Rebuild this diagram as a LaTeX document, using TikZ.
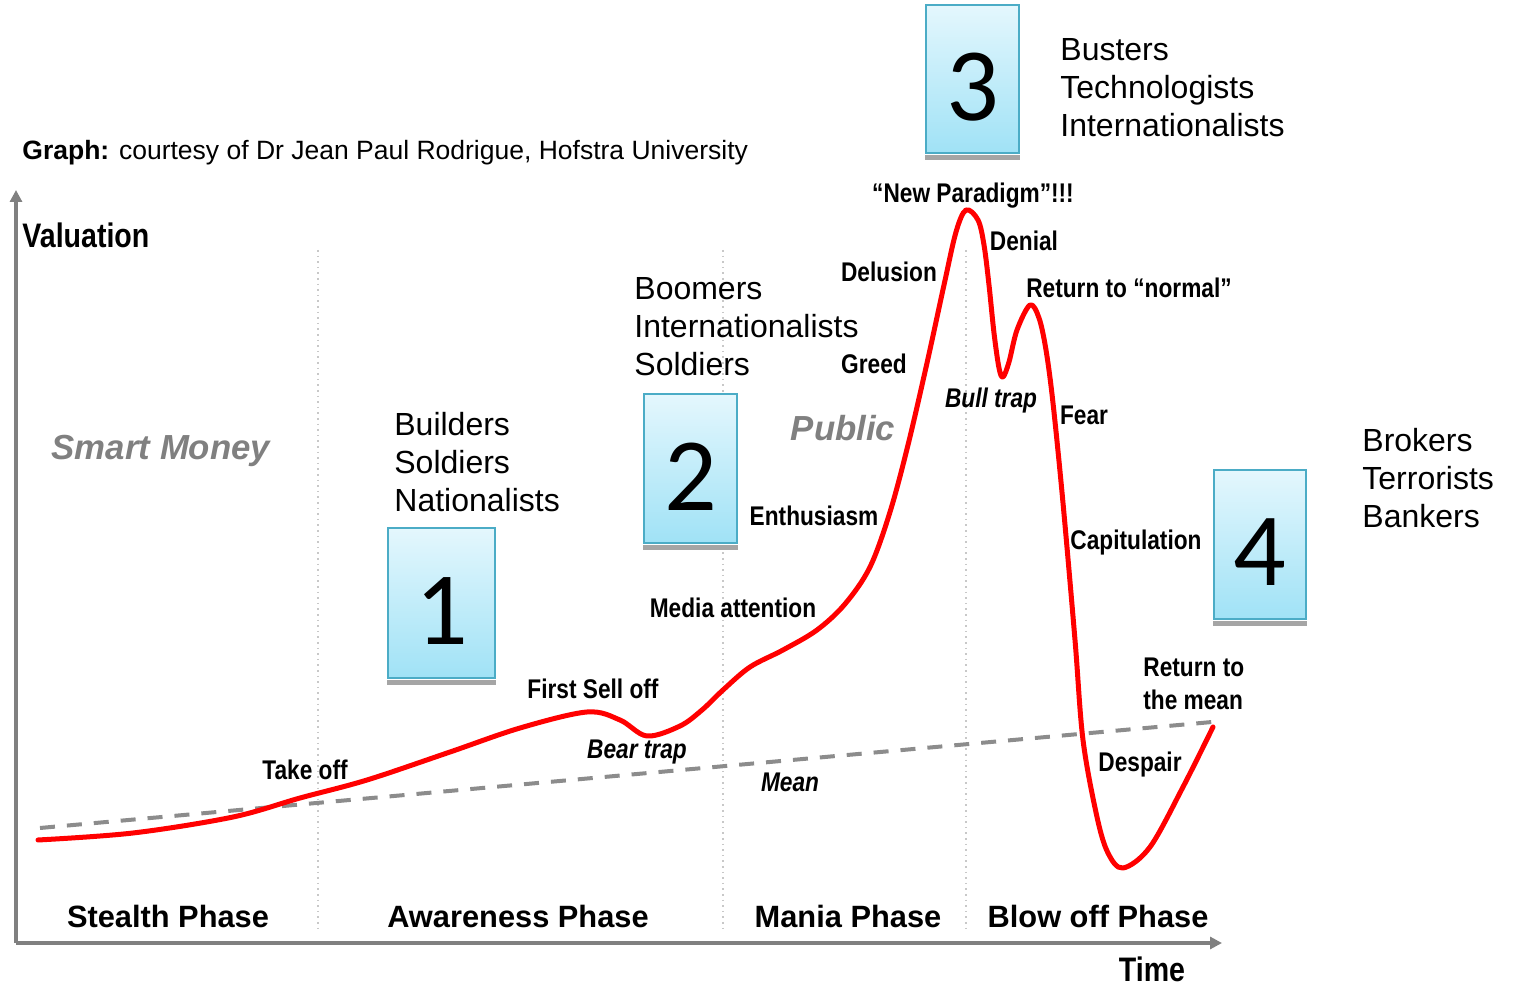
\documentclass[tikz,border=0pt]{standalone}
\usepackage{fontspec}
\setmainfont{Liberation Sans}
\newfontfamily\narrowfam[FakeStretch=0.84]{Liberation Sans}
\newfontfamily\boxfam{Carlito}
\usetikzlibrary{arrows.meta}
\definecolor{curvered}{RGB}{255,0,0}
\definecolor{axisgray}{RGB}{128,128,128}
\definecolor{meangray}{RGB}{140,140,140}
\definecolor{phasegray}{RGB}{200,200,200}
\definecolor{boxtop}{RGB}{228,247,253}
\definecolor{boxbottom}{RGB}{160,226,246}
\definecolor{boxborder}{RGB}{75,172,198}
\definecolor{shadowgray}{RGB}{165,165,165}
\definecolor{crowdgray}{RGB}{128,128,128}
\tikzset{
  lbl/.style={inner sep=0pt, font=\narrowfam\bfseries\fontsize{13.5pt}{16.5pt}\selectfont},
  ilbl/.style={lbl, font=\narrowfam\bfseries\itshape\fontsize{13.5pt}{16.5pt}\selectfont},
  axislbl/.style={inner sep=0pt, font=\narrowfam\bfseries\fontsize{17pt}{20pt}\selectfont},
  phaselbl/.style={inner sep=0pt, font=\bfseries\fontsize{15.4pt}{18pt}\selectfont},
  crowd/.style={inner sep=0pt, text=crowdgray, font=\bfseries\itshape\fontsize{17.4pt}{20pt}\selectfont},
  group/.style={inner sep=0pt, anchor=north west, align=left, font=\fontsize{16pt}{19pt}\selectfont},
  numbox/.style={draw=boxborder, line width=1pt, top color=boxtop, bottom color=boxbottom, inner sep=0pt},
  digit/.style={inner sep=0pt, font=\boxfam\fontsize{52pt}{60pt}\selectfont},
  axisline/.style={draw=axisgray, line width=2pt, -{Triangle[width=6pt,length=6pt]}},
  phaseline/.style={draw=phasegray, line width=0.8pt, dotted},
  meanline/.style={draw=meangray, line width=2pt, dash pattern=on 7.5pt off 6pt},
  curve/.style={draw=curvered, line width=2.5pt, line join=round, line cap=round}
}
\begin{document}
\begin{tikzpicture}[x=0.5pt,y=-0.5pt]
\useasboundingbox (0,0) rectangle (1516,988);

% phase separators
\coordinate (s1t) at (318,250); \coordinate (s1b) at (318,932);
\coordinate (s2t) at (723,250); \coordinate (s2b) at (723,932);
\coordinate (s3t) at (966,250); \coordinate (s3b) at (966,932);
\draw[phaseline] (s1t) -- (s1b);
\draw[phaseline] (s2t) -- (s2b);
\draw[phaseline] (s3t) -- (s3b);

% axes
\coordinate (origin) at (16,943);
\coordinate (ytip) at (16,190);
\coordinate (xtip) at (1222,943);
\draw[axisline] (origin) -- (ytip);
\draw[axisline] (origin) -- (xtip);

% mean line
\coordinate (m1) at (40,828);
\coordinate (m2) at (1212,722);
\draw[meanline] (m1) -- (m2);

% valuation curve
\draw[curve] plot[smooth, tension=0.55] coordinates {
(38,840) (133,833) (233,817) (300,798) (367,780) (450,752) (520,728) (587,712)
(620,720) (647,736) (680,726) (702,710) (723,690) (750,667) (783,650) (817,630)
(845,604) (870,567) (890,512) (908,445) (927,363) (944,285)
(956,232) (966,210) (978,220) (984,245) (989,285) (994,333) (999,368) (1003,377)
(1009,362) (1017,330) (1030,305) (1039,318) (1046,350) (1053,403) (1063,503)
(1075,640) (1083,740) (1097,817) (1108,853) (1123,868) (1150,847) (1183,787)
(1213,727)};

% numbered boxes
\node[numbox, minimum width=53.5pt, minimum height=75pt] (b1) at (441.5,603) {};
\node[numbox, minimum width=46.5pt, minimum height=74.5pt] (b2) at (690.5,468.5) {};
\node[numbox, minimum width=46.5pt, minimum height=74pt] (b3) at (972.5,79) {};
\node[numbox, minimum width=46pt, minimum height=74.5pt] (b4) at (1260,544.5) {};
\foreach \b in {b1,b2,b3,b4}{
  \fill[shadowgray] ([yshift=-0.5pt]\b.south west) rectangle ([yshift=-3pt]\b.south east);
}
\node[digit] (d1) at ([yshift=-4pt]b1.center) {1};
\node[digit] (d2) at ([yshift=-4pt]b2.center) {2};
\node[digit] (d3) at ([yshift=-4pt]b3.center) {3};
\node[digit] (d4) at ([yshift=-4pt]b4.center) {4};

% groups
\node[group] (g1) at (394,412) {Builders\\Soldiers\\Nationalists};
\node[group] (g2) at (634,277) {Boomers\\Internationalists\\Soldiers};
\node[group] (g3) at (1060,38) {Busters\\Technologists\\Internationalists};
\node[group] (g4) at (1362,428) {Brokers\\Terrorists\\Bankers};

% credit
\node[inner sep=0pt, anchor=west, font=\fontsize{13.25pt}{16pt}\selectfont] (credit) at (22,153)
  {\textbf{Graph:} courtesy of Dr Jean Paul Rodrigue, Hofstra University};

% axis labels
\node[axislbl, anchor=west] (val) at (22,235) {Valuation};
\node[axislbl] (time) at (1152,969) {Time};

% crowd labels
\node[crowd] (smart) at (161,451) {Smart Money};
\node[crowd] (public) at (843,428) {Public};

% curve labels
\node[lbl] (takeoff) at (305,770) {Take off};
\node[lbl] (firstsell) at (593,689) {First Sell off};
\node[ilbl] (beartrap) at (637,752) {Bear trap};
\node[ilbl] (mean) at (790,782) {Mean};
\node[lbl] (media) at (733,608) {Media attention};
\node[lbl] (enth) at (814,516) {Enthusiasm};
\node[lbl] (greed) at (874,364) {Greed};
\node[lbl] (delusion) at (889,272) {Delusion};
\node[lbl] (paradigm) at (973,196) {“New Paradigm”!!!};
\node[lbl] (denial) at (1024,241) {Denial};
\node[lbl] (normal) at (1129,288) {Return to “normal”};
\node[ilbl] (bulltrap) at (991,401) {Bull trap};
\node[lbl] (fear) at (1084,415) {Fear};
\node[lbl] (capit) at (1136,543) {Capitulation};
\node[lbl, anchor=north west, align=left] (retmean) at (1143,658) {Return to\\the mean};
\node[lbl] (despair) at (1140,765) {Despair};

% phase labels
\node[phaselbl] (p1) at (168,916) {Stealth Phase};
\node[phaselbl] (p2) at (518,916) {Awareness Phase};
\node[phaselbl] (p3) at (848,916) {Mania Phase};
\node[phaselbl] (p4) at (1098,916) {Blow off Phase};
\end{tikzpicture}
\end{document}
